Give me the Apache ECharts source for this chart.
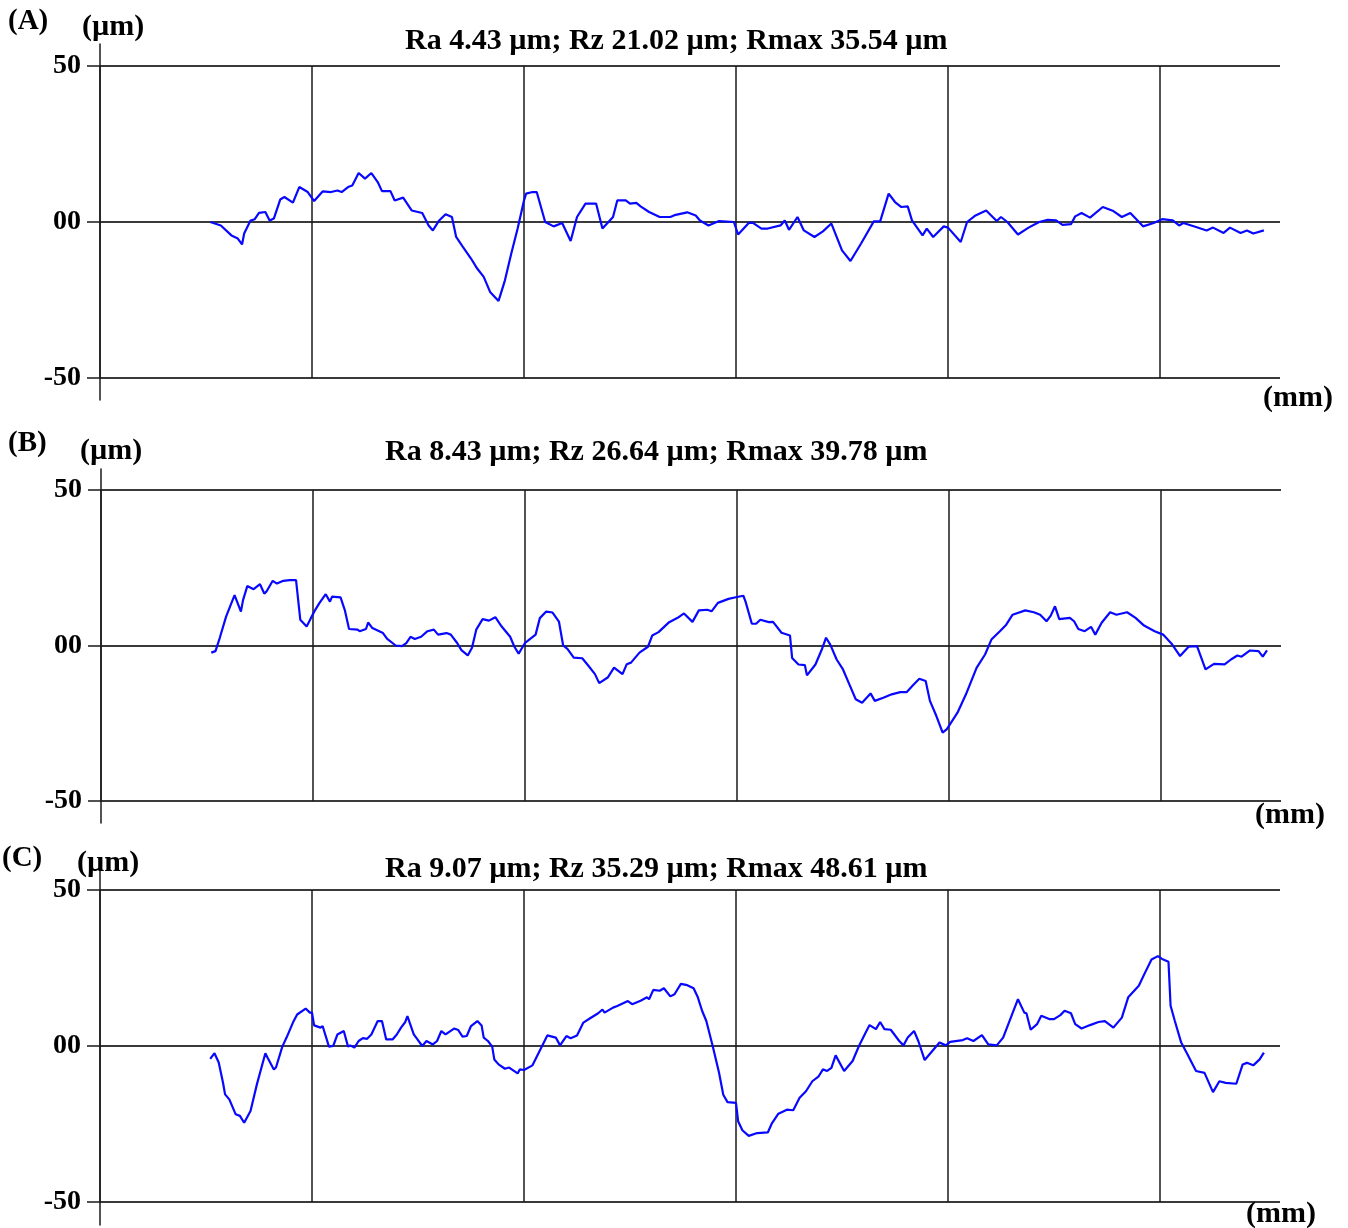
<!DOCTYPE html>
<html>
<head>
<meta charset="utf-8">
<script src="https://cdn.jsdelivr.net/npm/echarts@6/dist/echarts.min.js"></script>
<style>
html,body{margin:0;padding:0;background:#fff;}
#chart{width:1348px;height:1228px;}
</style>
</head>
<body>
<div id="chart"></div>
<script>
// ---- data (x in mm along the profile, y in µm) ----
const panelLetters = ['(A)', '(B)', '(C)'];
const panelTitles = [
  'Ra 4.43 µm; Rz 21.02 µm; Rmax 35.54 µm',
  'Ra 8.43 µm; Rz 26.64 µm; Rmax 39.78 µm',
  'Ra 9.07 µm; Rz 35.29 µm; Rmax 48.61 µm'
];
const yUnit = '(µm)';
const xUnit = '(mm)';
const yTickValues = [-50, 0, 50];
const yTickLabels = ['-50', '00', '50'];

const profileA_x = [0.52,0.57,0.62,0.65,0.67,0.68,0.71,0.73,0.75,0.78,0.80,0.82,0.85,0.87,0.91,0.94,0.98,1.01,1.05,1.09,1.12,1.14,1.17,1.19,1.22,1.25,1.28,1.31,1.33,1.37,1.39,1.43,1.47,1.52,1.55,1.57,1.60,1.63,1.66,1.68,1.71,1.75,1.78,1.81,1.84,1.88,1.91,1.94,1.97,2.00,2.01,2.04,2.06,2.10,2.14,2.18,2.22,2.25,2.29,2.34,2.37,2.42,2.44,2.48,2.50,2.53,2.55,2.59,2.64,2.69,2.71,2.77,2.81,2.83,2.87,2.92,2.99,3.01,3.06,3.08,3.12,3.15,3.21,3.23,3.25,3.29,3.32,3.37,3.41,3.45,3.50,3.54,3.59,3.65,3.68,3.72,3.75,3.78,3.81,3.83,3.88,3.90,3.93,3.98,4.00,4.06,4.09,4.13,4.18,4.23,4.25,4.28,4.33,4.38,4.43,4.47,4.51,4.54,4.58,4.60,4.63,4.67,4.73,4.78,4.82,4.86,4.92,4.97,5.01,5.06,5.09,5.11,5.17,5.22,5.25,5.30,5.33,5.38,5.41,5.44,5.49];
const profileA_y = [0,-1.1,-4.3,-5.3,-7.2,-3.7,0.5,0.9,2.9,3.2,0.5,1.1,7.2,8.0,6.2,11.2,9.6,6.7,9.8,9.6,10.1,9.6,11.2,11.7,15.7,13.9,15.7,12.8,9.9,9.9,6.9,7.8,3.7,2.9,-1.1,-2.7,0.5,2.5,1.6,-4.8,-7.8,-11.7,-15.0,-17.6,-22.4,-25.3,-18.7,-10.1,-2.1,6.9,9.1,9.6,9.6,0,-1.4,-0.3,-6.1,1.6,5.9,5.9,-2.1,1.6,6.9,6.9,5.9,6.1,5.0,3.2,1.6,1.6,2.2,3.1,2.1,0.5,-1.1,0.3,0,-4.0,-0.3,-0.3,-2.1,-2.1,-1.1,0.5,-2.5,1.6,-2.7,-4.8,-3.0,-0.5,-9.1,-12.5,-6.9,0.2,0.2,9.1,6.4,4.8,5.0,0.5,-4.3,-2.1,-4.8,-1.4,-1.8,-6.4,0,2.1,3.7,0.3,1.6,0,-4.0,-1.8,0,0.7,0.5,-0.9,-0.7,1.8,2.9,1.4,4.8,3.5,1.6,2.9,-1.4,-0.3,0.9,0.5,-1.1,-0.3,-1.6,-2.7,-1.8,-3.5,-1.8,-3.5,-2.7,-3.7,-2.7];

const profileB_x = [0.52,0.54,0.56,0.59,0.63,0.66,0.67,0.69,0.72,0.75,0.77,0.78,0.81,0.83,0.86,0.89,0.92,0.94,0.97,0.99,1.01,1.03,1.06,1.08,1.09,1.13,1.15,1.17,1.21,1.22,1.25,1.26,1.28,1.33,1.35,1.39,1.42,1.44,1.46,1.48,1.51,1.54,1.57,1.59,1.63,1.65,1.68,1.70,1.73,1.75,1.77,1.80,1.83,1.86,1.89,1.93,1.95,1.97,2.00,2.02,2.05,2.07,2.10,2.13,2.16,2.18,2.20,2.23,2.27,2.30,2.33,2.35,2.39,2.42,2.46,2.48,2.50,2.54,2.58,2.60,2.63,2.68,2.72,2.75,2.79,2.82,2.86,2.88,2.91,2.96,3.00,3.03,3.04,3.07,3.09,3.11,3.15,3.17,3.21,3.25,3.26,3.29,3.32,3.33,3.37,3.40,3.42,3.44,3.47,3.50,3.53,3.56,3.59,3.63,3.65,3.69,3.73,3.77,3.80,3.83,3.86,3.89,3.91,3.94,3.97,3.99,4.04,4.08,4.13,4.17,4.20,4.24,4.27,4.30,4.36,4.40,4.43,4.46,4.48,4.50,4.52,4.57,4.59,4.61,4.64,4.67,4.69,4.72,4.76,4.79,4.84,4.88,4.92,4.97,5.01,5.05,5.09,5.13,5.17,5.21,5.25,5.30,5.33,5.36,5.38,5.42,5.46,5.48,5.50];
const profileB_y = [-2.3,-1.8,2.4,9.3,16.2,10.9,14.6,19.1,18.1,19.7,16.7,17.3,20.8,19.9,20.8,21.0,21.0,8.3,6.1,8.8,11.4,13.6,16.5,14.1,15.7,15.5,11.4,5.3,5.1,4.6,5.3,7.4,5.6,4.0,2.1,0,-0.2,0.8,2.8,2.1,2.8,4.6,5.1,3.5,4.0,3.5,0.8,-1.5,-3.2,-0.7,5.1,8.5,8.0,9.1,6.1,2.8,-0.4,-2.6,0.8,1.9,3.5,8.8,10.9,10.6,7.7,0,-1.1,-3.9,-4.1,-6.6,-9.2,-12.1,-10.3,-7.1,-9.2,-6.0,-5.5,-2.3,-0.4,3.2,4.3,7.5,8.9,10.3,7.6,11.3,11.5,11.0,13.7,15.0,15.6,16.0,14.2,7.0,7.0,8.3,7.5,7.6,4.1,3.2,-4.0,-6.1,-6.3,-9.6,-6.1,-1.3,2.5,0.3,-4.5,-7.7,-12.5,-17.3,-18.4,-15.4,-17.8,-16.8,-15.7,-15.0,-15.0,-12.8,-10.7,-11.4,-17.8,-22.6,-28.0,-26.9,-21.6,-15.7,-7.2,-2.9,1.9,4.6,6.7,9.9,11.3,10.7,9.9,7.8,9.6,12.6,8.5,8.9,7.8,5.3,4.6,6.0,3.5,7.3,10.7,9.9,10.7,8.9,6.4,4.6,3.5,0.6,-3.4,-0.4,-0.2,-7.7,-5.9,-6.1,-4.5,-3.2,-3.6,-1.6,-1.8,-3.6,-1.6];

const profileC_x = [0.52,0.54,0.56,0.58,0.59,0.61,0.64,0.66,0.68,0.71,0.74,0.78,0.79,0.82,0.83,0.86,0.88,0.91,0.93,0.97,0.99,1.00,1.01,1.04,1.05,1.08,1.10,1.12,1.15,1.17,1.18,1.20,1.22,1.24,1.26,1.28,1.31,1.33,1.35,1.38,1.40,1.42,1.44,1.45,1.48,1.50,1.52,1.54,1.57,1.59,1.61,1.63,1.67,1.69,1.71,1.73,1.75,1.78,1.80,1.81,1.83,1.85,1.86,1.88,1.91,1.93,1.97,1.98,2.00,2.04,2.07,2.11,2.15,2.17,2.20,2.22,2.25,2.28,2.31,2.35,2.37,2.38,2.42,2.44,2.49,2.51,2.55,2.58,2.59,2.61,2.64,2.66,2.69,2.71,2.74,2.77,2.80,2.82,2.84,2.86,2.89,2.92,2.94,2.96,3.00,3.01,3.03,3.06,3.10,3.15,3.17,3.20,3.24,3.27,3.30,3.33,3.36,3.39,3.41,3.43,3.45,3.47,3.51,3.55,3.58,3.61,3.63,3.66,3.68,3.70,3.73,3.77,3.79,3.81,3.84,3.86,3.89,3.92,3.96,3.99,4.01,4.07,4.09,4.12,4.16,4.19,4.23,4.26,4.29,4.33,4.36,4.37,4.39,4.42,4.44,4.48,4.50,4.53,4.55,4.58,4.60,4.63,4.67,4.71,4.74,4.78,4.82,4.85,4.90,4.93,4.96,4.99,5.01,5.04,5.05,5.07,5.10,5.13,5.17,5.21,5.25,5.28,5.31,5.36,5.39,5.41,5.44,5.47,5.49];
const profileC_y = [-4.1,-2.3,-5.3,-11.7,-15.5,-17.1,-21.9,-22.4,-24.6,-20.8,-12.3,-2.3,-3.7,-7.5,-6.9,-0.2,2.7,7.5,10.1,12.0,10.7,10.7,6.6,5.9,6.4,-0.2,0,3.7,4.8,-0.2,0.2,-0.5,1.6,2.5,2.3,3.7,8.0,8.0,2.1,2.1,3.7,5.9,7.7,9.6,3.7,1.9,0,1.6,0.5,1.6,4.8,3.7,5.6,5.1,3.0,3.2,6.4,8.0,6.6,2.7,1.6,-0.2,-4.3,-5.9,-7.3,-6.9,-8.8,-7.5,-7.7,-6.2,-2.1,3.4,2.7,0.2,3.2,2.5,3.4,7.5,8.8,10.5,11.7,10.7,12.3,12.8,14.4,13.4,14.5,15.6,15.0,18.0,17.7,18.5,15.9,16.6,19.9,19.5,18.5,15.6,11.3,8.0,0,-8.6,-15.6,-18.0,-18.2,-24.1,-27.0,-28.8,-27.9,-27.7,-24.7,-21.7,-20.4,-20.6,-16.6,-14.5,-11.3,-9.7,-7.5,-8.0,-7.0,-3.0,-8.0,-4.8,0,4.1,6.7,5.4,7.7,5.4,5.2,1.6,0.2,2.7,4.8,1.6,-4.5,-2.1,1.1,0.2,1.3,1.9,2.5,1.6,3.5,0.5,0.2,2.7,8.0,15.0,10.7,10.5,5.2,7.0,9.7,8.6,8.6,9.9,11.3,10.5,7.0,5.6,6.7,7.7,8.0,5.9,9.1,15.6,19.3,23.6,27.7,28.8,27.9,27.0,12.9,8.0,1.1,-2.7,-8.0,-8.6,-14.8,-11.3,-11.8,-12.1,-5.9,-5.4,-6.2,-4.3,-2.1];

const profilesX = [profileA_x, profileB_x, profileC_x];
const profilesY = [profileA_y, profileB_y, profileC_y];

// ---- layout (styling only) ----
const FONT = "'Liberation Serif','Times New Roman',serif";
const panels = [
  {left: 100, top: 66,  height: 312, axTop: 44,  axH: 356,
   letter: [8, 7], yu: [82, 12], tt: [405, 26], xu: [1263, 383]},
  {left: 101, top: 490, height: 311, axTop: 469, axH: 354,
   letter: [8, 429], yu: [80, 436], tt: [385, 437], xu: [1255, 800]},
  {left: 100, top: 890, height: 312, axTop: 869, axH: 356,
   letter: [2, 844], yu: [77, 848], tt: [385, 854], xu: [1246, 1199]}
];
const GRID_W = 1180;
const X_MAX = 1180 / 212;

const grids = [], xAxes = [], yAxes = [], series = [], titles = [];
panels.forEach((p, i) => {
  grids.push({left: p.left, top: p.top, width: GRID_W, height: p.height});
  xAxes.push({
    type: 'value', gridIndex: i, min: 0, max: X_MAX, interval: 1,
    axisLine: {show: false}, axisTick: {show: false}, axisLabel: {show: false},
    splitLine: {show: true, showMaxLine: false, lineStyle: {color: '#1a1a1a', width: 1.5}}
  });
  yAxes.push({
    type: 'value', gridIndex: i, min: -50, max: 50, interval: 25,
    axisLine: {show: false},
    axisTick: {show: true, customValues: yTickValues, length: 13, lineStyle: {color: '#1a1a1a', width: 1.5}},
    axisLabel: {
      show: true, customValues: yTickValues, margin: 19,
      formatter: v => yTickLabels[yTickValues.indexOf(v)],
      color: '#000', fontFamily: FONT, fontWeight: 'bold', fontSize: 28
    },
    splitLine: {show: true, lineStyle: {color: '#3a3a3a', width: 2}}
  });
  series.push({
    type: 'line', xAxisIndex: i, yAxisIndex: i,
    data: profilesX[i].map((x, k) => [x, profilesY[i][k]]),
    showSymbol: false, symbol: 'none', smooth: false,
    lineStyle: {color: '#0808ff', width: 2.2}, silent: true
  });
  const ts = {color: '#000', fontFamily: FONT, fontWeight: 'bold', fontSize: 30};
  titles.push({text: panelLetters[i], left: p.letter[0], top: p.letter[1], padding: 0, textStyle: Object.assign({}, ts, {fontSize: 29})});
  titles.push({text: yUnit, left: p.yu[0], top: p.yu[1], padding: 0, textStyle: ts});
  titles.push({text: panelTitles[i], left: p.tt[0], top: p.tt[1], padding: 0, textStyle: ts});
  titles.push({text: xUnit, left: p.xu[0], top: p.xu[1], padding: 0, textStyle: ts});
});
// extended vertical axis lines (taller than the plotting frame)
panels.forEach((p, i) => {
  const gi = grids.length;
  grids.push({left: p.left, top: p.axTop, width: GRID_W, height: p.axH});
  xAxes.push({type: 'value', gridIndex: gi, show: false, min: 0, max: X_MAX});
  yAxes.push({
    type: 'value', gridIndex: gi, min: 0, max: 1,
    axisLine: {show: true, lineStyle: {color: '#1a1a1a', width: 1.5}},
    axisTick: {show: false}, axisLabel: {show: false}, splitLine: {show: false}
  });
});

const chart = echarts.init(document.getElementById('chart'), null, {renderer: 'canvas'});
chart.setOption({
  backgroundColor: '#fff',
  animation: false,
  title: titles,
  grid: grids,
  xAxis: xAxes,
  yAxis: yAxes,
  series: series
});
</script>
</body>
</html>
